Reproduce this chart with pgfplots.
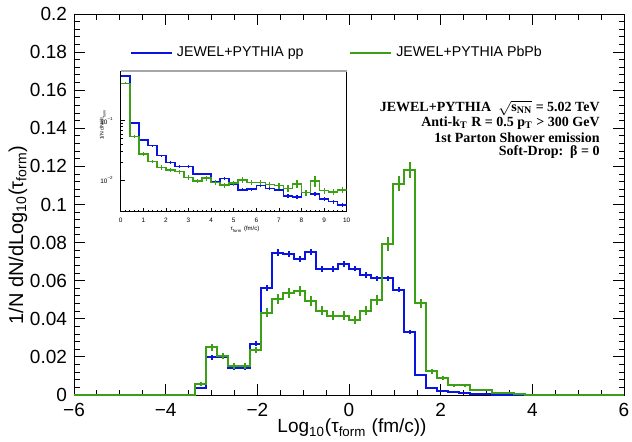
\documentclass[border=0pt]{standalone}
\usepackage{fontspec}
\setmainfont{Liberation Sans}
\newfontfamily\timesf{Liberation Serif}
\usepackage{pgfplots}
\pgfplotsset{compat=1.18}
\definecolor{rblue}{RGB}{10,20,225}
\definecolor{rgreen}{RGB}{60,160,20}

\pgfplotstableread{
x y e
-3.24 0.0038 0.0006
-3.00 0.0198 0.0012
-2.76 0.0200 0.0012
-2.52 0.0143 0.0010
-2.28 0.0143 0.0010
-2.04 0.0268 0.0013
-1.80 0.0560 0.0015
-1.56 0.0748 0.0016
-1.32 0.0740 0.0016
-1.08 0.0714 0.0016
-0.84 0.0749 0.0016
-0.60 0.0660 0.0015
-0.36 0.0662 0.0015
-0.12 0.0688 0.0015
0.12 0.0664 0.0015
0.36 0.0630 0.0015
0.60 0.0612 0.0015
0.84 0.0612 0.0015
1.08 0.0553 0.0014
1.32 0.0332 0.0011
1.56 0.0105 0.0007
1.80 0.0038 0.0004
2.04 0.0023 0.0003
2.28 0.0014 0.0002
2.52 0.0008 0.0002
2.76 0.0005 0.0001
3.00 0.0003 0.0001
3.24 0.0002 0.0001
}\bluetab

\pgfplotstableread{
x y e
-3.24 0.0058 0.0010
-3.00 0.0250 0.0018
-2.76 0.0205 0.0017
-2.52 0.0152 0.0015
-2.28 0.0152 0.0015
-2.04 0.0236 0.0018
-1.80 0.0432 0.0023
-1.56 0.0505 0.0025
-1.32 0.0534 0.0026
-1.08 0.0548 0.0026
-0.84 0.0493 0.0025
-0.60 0.0443 0.0024
-0.36 0.0416 0.0023
-0.12 0.0416 0.0023
0.12 0.0394 0.0022
0.36 0.0442 0.0024
0.60 0.0500 0.0025
0.84 0.0792 0.0035
1.08 0.1110 0.0040
1.32 0.1180 0.0042
1.56 0.0481 0.0025
1.80 0.0124 0.0012
2.04 0.0088 0.0010
2.28 0.0052 0.0008
2.52 0.0052 0.0008
2.76 0.0027 0.0006
3.00 0.0025 0.0006
3.24 0.0013 0.0004
3.48 0.0008 0.0003
3.72 0.0004 0.0002
}\greentab

\pgfplotstableread{
x y e
0.2 0.568 0.03
0.6 0.0904 0.04
1.0 0.0473 0.04
1.4 0.0380 0.04
1.8 0.0257 0.04
2.2 0.0196 0.05
2.6 0.0168 0.05
3.0 0.0168 0.05
3.4 0.0125 0.05
3.8 0.0125 0.05
4.2 0.0094 0.06
4.6 0.0105 0.06
5.0 0.0086 0.06
5.4 0.0068 0.06
5.8 0.0070 0.06
6.2 0.0080 0.06
6.6 0.0072 0.06
7.0 0.0068 0.06
7.4 0.0054 0.07
7.8 0.0051 0.07
8.2 0.0061 0.07
8.6 0.0058 0.07
9.0 0.0047 0.08
9.4 0.0043 0.08
9.8 0.0038 0.08
}\blueins

\pgfplotstableread{
x y e
0.2 0.427 0.04
0.6 0.0537 0.06
1.0 0.0275 0.07
1.4 0.0204 0.07
1.8 0.0162 0.08
2.2 0.0148 0.08
2.6 0.0138 0.08
3.0 0.0110 0.09
3.4 0.0096 0.09
3.8 0.0107 0.09
4.2 0.0091 0.10
4.6 0.0082 0.10
5.0 0.0088 0.10
5.4 0.0100 0.10
5.8 0.0091 0.10
6.2 0.0091 0.10
6.6 0.0084 0.11
7.0 0.0080 0.11
7.4 0.0072 0.12
7.8 0.0086 0.14
8.2 0.0061 0.12
8.6 0.0096 0.22
9.0 0.0066 0.12
9.4 0.0062 0.12
9.8 0.0068 0.12
}\greenins

\pgfplotsset{
  errb/.style 2 args={only marks, mark=text, text mark={}, forget plot, color=#1,
    error bars/y dir=both, error bars/error mark=none,
    error bars/error bar style={draw=#1, line width=#2}},
}

\begin{document}
\begin{tikzpicture}
\useasboundingbox (0,0) rectangle (316pt,220.5pt);
\begin{axis}[
  at={(37pt,23pt)}, anchor=south west,
  scale only axis, width=275pt, height=190.5pt,
  xmin=-6, xmax=6, ymin=0, ymax=0.2,
  xtick={-6,-4,-2,0,2,4,6},
  xticklabels={−6,−4,−2,0,2,4,6},
  minor x tick num=3,
  ytick={0,0.02,0.04,0.06,0.08,0.1,0.12,0.14,0.16,0.18,0.2},
  yticklabels={0,0.02,0.04,0.06,0.08,0.1,0.12,0.14,0.16,0.18,0.2},
  minor y tick num=4,
  tick align=inside, tick pos=both,
  xticklabel pos=lower, yticklabel pos=left,
  major tick length=5.5pt, minor tick length=2.75pt,
  tick style={black, line width=0.5pt},
  axis line style={line width=0.5pt},
  tick label style={font=\fontsize{9.5}{10}\selectfont},
  xticklabel style={yshift=-0.5pt},
  legend style={at={(0.1018,0.898)}, anchor=west, draw=none, fill=none,
    inner sep=0pt, font=\fontsize{7.1}{8}\selectfont, legend columns=2,
    cells={anchor=west}},
  legend image code/.code={\draw[#1, line width=0.8pt] (0pt,0pt) -- (20.5pt,0pt);},
]
\addplot[const plot, rblue, line width=1pt] coordinates {
(-6,0) (-3.36,0.0038) (-3.12,0.0198) (-2.88,0.0200) (-2.64,0.0143) (-2.40,0.0143)
(-2.16,0.0268) (-1.92,0.0560) (-1.68,0.0748) (-1.44,0.0740) (-1.20,0.0714)
(-0.96,0.0749) (-0.72,0.0660) (-0.48,0.0662) (-0.24,0.0688) (0,0.0664)
(0.24,0.0630) (0.48,0.0612) (0.72,0.0612) (0.96,0.0553) (1.20,0.0332)
(1.44,0.0105) (1.68,0.0038) (1.92,0.0023) (2.16,0.0014) (2.40,0.0008)
(2.64,0.0005) (2.88,0.0003) (3.12,0.0002) (3.36,0) (6,0)};
\addlegendentry{JEWEL+PYTHIA pp\rule{21pt}{0pt}}
\addplot[const plot, rgreen, line width=1pt] coordinates {
(-6,0) (-3.36,0.0058) (-3.12,0.0250) (-2.88,0.0205) (-2.64,0.0152) (-2.40,0.0152)
(-2.16,0.0236) (-1.92,0.0432) (-1.68,0.0505) (-1.44,0.0534) (-1.20,0.0548)
(-0.96,0.0493) (-0.72,0.0443) (-0.48,0.0416) (-0.24,0.0416) (0,0.0394)
(0.24,0.0442) (0.48,0.0500) (0.72,0.0792) (0.96,0.1110) (1.20,0.1180)
(1.44,0.0481) (1.68,0.0124) (1.92,0.0088) (2.16,0.0052) (2.40,0.0052)
(2.64,0.0027) (2.88,0.0025) (3.12,0.0013) (3.36,0.0008) (3.60,0.0004) (3.84,0) (6,0)};
\addlegendentry{JEWEL+PYTHIA PbPb}
\addplot[errb={rblue}{1pt}, error bars/y explicit] table[x=x, y=y, y error=e] {\bluetab};
\addplot[errb={rgreen}{1pt}, error bars/y explicit] table[x=x, y=y, y error=e] {\greentab};
\end{axis}

% inset
\begin{axis}[
  at={(60.35pt,114.65pt)}, anchor=south west,
  scale only axis, width=113pt, height=70.35pt,
  xmin=0, xmax=10, ymode=log, ymin=0.0029, ymax=0.69,
  xtick={0,1,...,10}, minor x tick num=4,
  ytick={0.01,0.1},
  yticklabels={10\textsuperscript{−2},10\textsuperscript{−1}},
  tick pos=left, tick align=inside,
  major tick length=2pt, minor tick length=1pt,
  tick style={black, line width=0.3pt},
  axis line style={line width=0.4pt},
  tick label style={font=\fontsize{3.2}{3.5}\selectfont},
  xticklabels={0,1,2,3,4,5,6,7,8,9,10},
  xticklabel style={yshift=0.5pt},
  axis background/.style={fill=white},
  xlabel={τ\textsubscript{form} (fm/c)},
  xlabel style={font=\fontsize{3}{3.5}\selectfont, at={(rel axis cs:0.55,0)}, anchor=north, yshift=-3.5pt},
  ylabel={1/N dN/dτ\textsubscript{form}},
  ylabel style={font=\fontsize{2.6}{3}\selectfont, at={(rel axis cs:0,0.62)}, anchor=south, yshift=4pt},
  extra description/.code={\draw[gray!70, line width=1.2pt] (rel axis cs:0,1) -- (rel axis cs:1,1);},
]
\addplot[const plot, rblue, line width=0.8pt] coordinates {
(0,0.568) (0.4,0.0904) (0.8,0.0473) (1.2,0.0380) (1.6,0.0257) (2.0,0.0196)
(2.4,0.0168) (2.8,0.0168) (3.2,0.0125) (3.6,0.0125) (4.0,0.0094) (4.4,0.0105)
(4.8,0.0086) (5.2,0.0068) (5.6,0.0070) (6.0,0.0080) (6.4,0.0072) (6.8,0.0068)
(7.2,0.0054) (7.6,0.0051) (8.0,0.0061) (8.4,0.0058) (8.8,0.0047) (9.2,0.0043)
(9.6,0.0038) (10,0.0038)};
\addplot[const plot, rgreen, line width=0.8pt] coordinates {
(0,0.427) (0.4,0.0537) (0.8,0.0275) (1.2,0.0204) (1.6,0.0162) (2.0,0.0148)
(2.4,0.0138) (2.8,0.0110) (3.2,0.0096) (3.6,0.0107) (4.0,0.0091) (4.4,0.0082)
(4.8,0.0088) (5.2,0.0100) (5.6,0.0091) (6.0,0.0091) (6.4,0.0084) (6.8,0.0080)
(7.2,0.0072) (7.6,0.0086) (8.0,0.0061) (8.4,0.0096) (8.8,0.0066) (9.2,0.0062)
(9.6,0.0068) (10,0.0068)};
\addplot[errb={rblue}{0.6pt}, error bars/y explicit relative] table[x=x, y=y, y error=e] {\blueins};
\addplot[errb={rgreen}{0.6pt}, error bars/y explicit relative] table[x=x, y=y, y error=e] {\greenins};
\end{axis}

% labels
\node[rotate=90, font=\fontsize{10}{11}\selectfont] at (9pt,103pt)
  {1/N dN/dLog\textsubscript{10}(τ\textsubscript{form})};
\node[font=\fontsize{9.5}{10}\selectfont] at (176pt,6.5pt)
  {Log\textsubscript{10}(τ\textsubscript{form} (fm/c))};

% annotations
\begin{scope}[every node/.style={anchor=east, font=\timesf\bfseries\fontsize{7}{8}\selectfont, inner sep=0pt}]
\node at (300pt,166.5pt) {JEWEL+PYTHIA\ \ $\sqrt{\mbox{\timesf\bfseries s\textsubscript{NN}}}$ = 5.02 TeV};
\node at (300pt,159pt) {Anti-k\textsubscript{T} R = 0.5 p\textsubscript{T} > 300 GeV};
\node at (300pt,151.8pt) {1st Parton Shower emission};
\node at (300pt,144.5pt) {Soft-Drop:\ \ β = 0};
\end{scope}
\end{tikzpicture}
\end{document}
